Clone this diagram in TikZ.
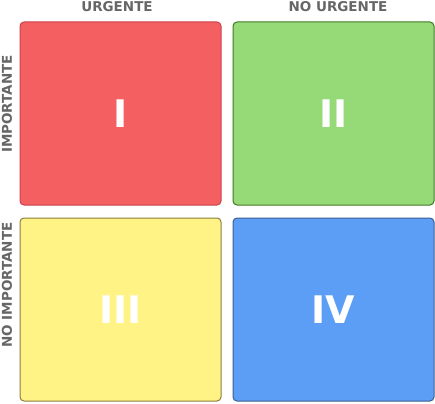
\documentclass[tikz,border=0pt]{standalone}
\usepackage{fontspec}
\setmainfont{DejaVu Sans}
\usetikzlibrary{positioning}
\definecolor{redq}{HTML}{F45F61}
\definecolor{redb}{HTML}{C9434A}
\definecolor{greenq}{HTML}{96D977}
\definecolor{greenb}{HTML}{3F7A25}
\definecolor{yellowq}{HTML}{FEF384}
\definecolor{yellowb}{HTML}{8C7C3E}
\definecolor{blueq}{HTML}{5C9EF5}
\definecolor{blueb}{HTML}{3D5F8F}
\definecolor{labelgray}{HTML}{666666}

\begin{document}
\begin{tikzpicture}[x=1pt, y=-1pt,
    quadrant/.style={draw, line width=1pt, rounded corners=4pt, minimum width=201pt, minimum height=183pt, inner sep=0pt, text=white, font=\fontsize{38}{38}\selectfont\bfseries},
    axislabel/.style={text=labelgray, font=\fontsize{13.5}{13.5}\selectfont\bfseries, inner sep=0pt}]
    \useasboundingbox (0,0) rectangle (435,403);
    % quadrants
    \node[quadrant, fill=redq, draw=redb] (q1) at (120.5,113.5) {I};
    \node[quadrant, fill=greenq, draw=greenb] (q2) at (333.5,113.5) {II};
    \node[quadrant, fill=yellowq, draw=yellowb] (q3) at (120.5,309.5) {III};
    \node[quadrant, fill=blueq, draw=blueb] (q4) at (333.5,309.5) {IV};
    % axis labels
    \node[axislabel] (urg) at (117,6.5) {URGENTE};
    \node[axislabel] (nourg) at (338,6.5) {NO URGENTE};
    \node[axislabel, rotate=90] (imp) at (7,104) {IMPORTANTE};
    \node[axislabel, rotate=90] (noimp) at (7,285) {NO IMPORTANTE};
\end{tikzpicture}
\end{document}
